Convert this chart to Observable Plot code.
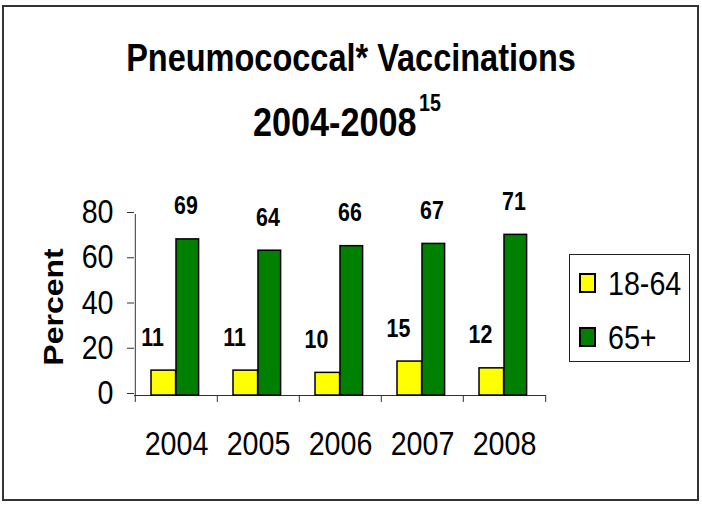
<!DOCTYPE html>
<html>
<head>
<meta charset="utf-8">
<script src="https://cdn.jsdelivr.net/npm/d3@7"></script>
<script src="https://cdn.jsdelivr.net/npm/@observablehq/plot@0.6"></script>
<style>
html, body { margin: 0; padding: 0; background: #fff; }
body { width: 702px; height: 508px; position: relative; overflow: hidden; font-family: "Liberation Sans", Arial, sans-serif; color: #000; }
#border { position: absolute; left: 2px; top: 5px; width: 697px; height: 496px; border: 2px solid #333; box-sizing: border-box; }
.tline { position: absolute; left: 0; width: 702px; text-align: center; font-weight: bold; line-height: 1; white-space: nowrap; transform: scaleX(0.855); transform-origin: 351px 0; }
#chart { position: absolute; left: 0; top: 170px; }
.lgbox { position: absolute; left: 569px; top: 254px; width: 121px; height: 108px; border: 1px solid #222; box-sizing: border-box; }
.sw { position: absolute; left: 579px; width: 17px; height: 20px; border: 2px solid #000; box-sizing: border-box; }
.lt { position: absolute; left: 608px; font-size: 33.5px; line-height: 1; white-space: nowrap; transform: scaleX(0.855); transform-origin: 0 0; }
</style>
</head>
<body>
<div id="border"></div>
<div class="tline" id="t1" style="top:39px;font-size:38px;"></div>
<div class="tline" id="t2" style="top:102px;font-size:40px;left:-4px;"></div>
<div id="chart"></div>
<div id="legend"></div>
<script>
// ---- data ----
const titleLine1 = "Pneumococcal* Vaccinations";
const titleLine2 = "2004-2008";
const titleNote = "15";
const yLabel = "Percent";
const years = ["2004", "2005", "2006", "2007", "2008"];
const series = ["18-64", "65+"];
const adults18to64 = [11, 11, 10, 15, 12];
const seniors65plus = [69, 64, 66, 67, 71];
const yTicks = [0, 20, 40, 60, 80];
const colors = ["#ffff00", "#008000"];

const data = years.flatMap((year, i) => [
  {year, series: series[0], value: adults18to64[i]},
  {year, series: series[1], value: seniors65plus[i]}
]);

// ---- title ----
document.getElementById("t1").textContent = titleLine1;
const t2 = document.getElementById("t2");
t2.appendChild(document.createTextNode(titleLine2));
const sup = document.createElement("span");
sup.textContent = titleNote;
sup.style.cssText = "font-size:23px;position:relative;top:-25px;margin-left:3px;";
t2.appendChild(sup);

// ---- chart ----
const W = 702, H = 300, mL = 134, mR = 156, mT = 44, mB = 75;
const step = (W - mL - mR) / years.length;
const axisColor = "#333";
const first = data.filter(d => d.series === series[0]);
const second = data.filter(d => d.series === series[1]);

const chart = Plot.plot({
  width: W, height: H,
  marginTop: mT, marginBottom: mB, marginLeft: mL, marginRight: mR,
  style: {fontFamily: '"Liberation Sans", Arial, sans-serif', background: "transparent", overflow: "visible", color: "#000"},
  x: {domain: years, padding: 0, label: null},
  y: {domain: [0, 80], label: null},
  color: {domain: series, range: colors},
  marks: [
    Plot.ruleX([years[0]], {x: d => d, y1: 0, y2: 80, dx: -step / 2, stroke: axisColor}),
    Plot.ruleY([0], {stroke: axisColor}),
    Plot.ruleX(years, {x: d => d, y1: 0, y2: 0, insetBottom: -7, dx: -step / 2, stroke: axisColor}),
    Plot.ruleX([years[years.length - 1]], {x: d => d, y1: 0, y2: 0, insetBottom: -7, dx: step / 2, stroke: axisColor}),
    Plot.barY(first, {x: "year", y: "value", fill: "series", stroke: "#000", strokeWidth: 1.5, insetLeft: 16, insetRight: 41.4}),
    Plot.barY(second, {x: "year", y: "value", fill: "series", stroke: "#000", strokeWidth: 1.5, insetLeft: 41, insetRight: 18.4}),
    Plot.text(first, {x: "year", y: "value", text: d => String(d.value), dx: -24, dy: -25, lineAnchor: "bottom", fontSize: 25, fontWeight: "bold", fill: "#000"}),
    Plot.text(second, {x: "year", y: "value", text: d => String(d.value), dx: 9.5, dy: -25, lineAnchor: "bottom", fontSize: 25, fontWeight: "bold", fill: "#000"}),
    Plot.axisY({ticks: yTicks, tickSize: 7, tickPadding: 14, fontSize: 33.5, dy: -2, label: null, stroke: axisColor, fill: "#000"}),
    Plot.axisX({tickSize: 0, tickPadding: 36, fontSize: 33.5, label: null, fill: "#000"}),
    Plot.text([yLabel], {text: d => d, frameAnchor: "left", textAnchor: "middle", lineAnchor: "middle", rotate: -90, dx: -80, dy: 2, fontSize: 32, fontWeight: "bold", fill: "#000"})
  ]
});

// emulate the horizontally condensed lettering of the original
chart.querySelectorAll("text").forEach(t => {
  const tr = t.getAttribute("transform") || "";
  t.setAttribute("transform", tr + (tr.includes("rotate") ? " scale(1,0.855)" : " scale(0.855,1)"));
});
document.getElementById("chart").appendChild(chart);

// ---- legend ----
const lg = document.getElementById("legend");
const box = document.createElement("div");
box.className = "lgbox";
lg.appendChild(box);
series.forEach((s, i) => {
  const sw = document.createElement("div");
  sw.className = "sw";
  sw.style.top = (273 + 54 * i) + "px";
  sw.style.background = colors[i];
  lg.appendChild(sw);
  const lt = document.createElement("div");
  lt.className = "lt";
  lt.style.top = (266.6 + 54 * i) + "px";
  lt.textContent = s;
  lg.appendChild(lt);
});
</script>
</body>
</html>
